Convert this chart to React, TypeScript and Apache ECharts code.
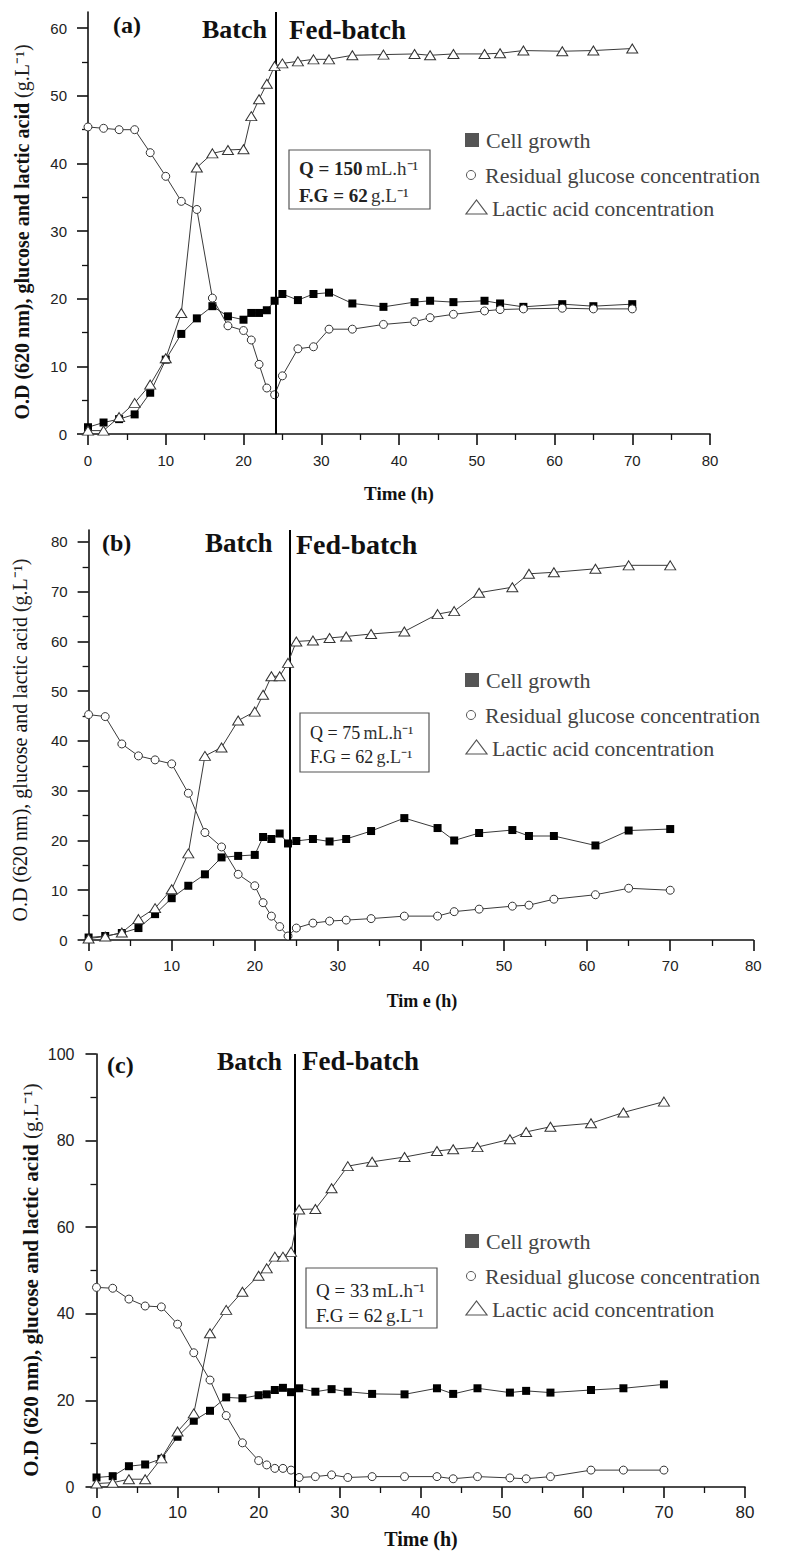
import React, { useEffect, useRef } from "react";
import * as echarts from "echarts";

// ---------- data ----------
const timeA = [0, 2, 4, 6, 8, 10, 12, 14, 16, 18, 20, 21, 22, 23, 24, 25, 27, 29, 31, 34, 38, 42, 44, 47, 51, 53, 56, 61, 65, 70];
const cellA = [1.0, 1.7, 2.2, 2.9, 6.1, 11.0, 14.8, 17.1, 18.9, 17.4, 16.9, 17.9, 17.9, 18.3, 19.7, 20.7, 19.8, 20.7, 20.9, 19.3, 18.8, 19.5, 19.7, 19.5, 19.7, 19.3, 18.8, 19.2, 18.9, 19.2];
const glucoseA = [45.4, 45.2, 45.0, 45.0, 41.6, 38.1, 34.4, 33.2, 20.1, 16.0, 15.3, 13.9, 10.3, 6.8, 5.8, 8.6, 12.6, 12.9, 15.5, 15.5, 16.2, 16.6, 17.2, 17.7, 18.2, 18.4, 18.5, 18.6, 18.5, 18.5];
const lacticA = [0.5, 0.5, 2.5, 4.6, 7.3, 11.2, 17.9, 39.4, 41.5, 42.0, 42.1, 47.0, 49.5, 51.8, 54.4, 54.8, 55.1, 55.4, 55.4, 56.0, 56.1, 56.2, 56.0, 56.2, 56.2, 56.3, 56.7, 56.6, 56.7, 57.0];

const timeB = [0, 2, 4, 6, 8, 10, 12, 14, 16, 18, 20, 21, 22, 23, 24, 25, 27, 29, 31, 34, 38, 42, 44, 47, 51, 53, 56, 61, 65, 70];
const cellB = [0.5, 0.8, 1.4, 2.4, 5.2, 8.4, 10.9, 13.2, 16.6, 16.9, 17.1, 20.7, 20.3, 21.4, 19.4, 19.9, 20.3, 19.8, 20.3, 21.9, 24.5, 22.5, 20.0, 21.5, 22.1, 20.9, 20.9, 19.0, 22.0, 22.3];
const glucoseB = [45.3, 44.9, 39.4, 37.0, 36.2, 35.4, 29.5, 21.6, 18.7, 13.2, 10.9, 7.5, 4.8, 2.7, 0.8, 2.4, 3.4, 3.8, 4.0, 4.3, 4.8, 4.8, 5.7, 6.2, 6.8, 7.0, 8.2, 9.1, 10.4, 10.0];
const lacticB = [0.3, 0.7, 1.5, 4.2, 6.4, 10.2, 17.4, 37.0, 38.7, 44.1, 45.9, 49.3, 53.0, 53.0, 55.7, 60.0, 60.2, 60.7, 61.0, 61.5, 62.0, 65.5, 66.1, 69.8, 70.9, 73.6, 73.9, 74.6, 75.3, 75.3];

const timeC = [0, 2, 4, 6, 8, 10, 12, 14, 16, 18, 20, 21, 22, 23, 24, 25, 27, 29, 31, 34, 38, 42, 44, 47, 51, 53, 56, 61, 65, 70];
const cellC = [2.2, 2.5, 4.8, 5.2, 6.5, 11.6, 15.3, 17.6, 20.7, 20.5, 21.2, 21.4, 22.4, 22.9, 21.9, 22.8, 22.0, 22.6, 22.0, 21.5, 21.4, 22.8, 21.5, 22.8, 21.8, 22.2, 21.8, 22.4, 22.8, 23.7];
const glucoseC = [46.1, 45.9, 43.4, 41.8, 41.6, 37.6, 31.0, 24.7, 16.5, 10.2, 6.1, 5.1, 4.3, 4.3, 3.9, 2.2, 2.4, 2.8, 2.2, 2.4, 2.4, 2.4, 1.9, 2.4, 2.1, 1.9, 2.4, 3.9, 3.9, 3.9];
const lacticC = [0.8, 1.0, 1.8, 1.8, 6.6, 12.8, 17.0, 35.5, 40.9, 45.1, 48.8, 50.5, 53.2, 53.2, 54.3, 64.1, 64.2, 69.0, 74.1, 75.1, 76.2, 77.6, 78.0, 78.5, 80.3, 82.0, 83.2, 84.0, 86.5, 89.0];

const switchTimes = [24.2, 24.2, 24.5];
const seriesNames = ["Cell growth", "Residual glucose concentration", "Lactic acid concentration"];
const panelLabels = ["(a)", "(b)", "(c)"];
const feedRates = ["150", "75", "33"];
const feedGlucose = "62";
const yLabelsA = [0, 10, 20, 30, 40, 50, 60];
const yMinorA = [5, 15, 25, 35, 45, 55];
const yLabelsB = [0, 10, 20, 30, 40, 50, 60, 70, 80];
const yMinorB = [5, 15, 25, 35, 45, 55, 65, 75];

// ---------- layout ----------
const SERIF = '"Liberation Serif", "Times New Roman", serif';
const SANS = '"Liberation Sans", Arial, sans-serif';
const grids = [
  { left: 88, top: 12, width: 622, height: 422 },
  { left: 88.6, top: 530, width: 664.7, height: 410 },
  { left: 96.5, top: 1054, width: 648.5, height: 433 },
];
const yMax = [62.4, 82.4, 100];
const axisLineStyle = { color: "#111", width: 1.6 };

function pairs(t: number[], v: number[]) {
  return t.map((x, i) => [x, v[i]]);
}

function panelSeries(gi: number, yIdx: number, t: number[], cell: number[], glu: number[], lac: number[]) {
  const common = {
    type: "line",
    xAxisIndex: gi,
    yAxisIndex: yIdx,
    clip: false,
    lineStyle: { color: "#3a3a3a", width: 1 },
    emphasis: { disabled: true },
  };
  return [
    {
      ...common,
      name: seriesNames[0],
      data: pairs(t, cell),
      symbol: "rect",
      symbolSize: 8,
      itemStyle: { color: "#000" },
      z: 3,
      markLine: {
        silent: true,
        symbol: ["none", "none"],
        label: { show: false },
        lineStyle: { color: "#000", width: 2, type: "solid" },
        emphasis: { disabled: true },
        data: [{ xAxis: switchTimes[gi] }],
      },
    },
    {
      ...common,
      name: seriesNames[1],
      data: pairs(t, glu),
      symbol: "circle",
      symbolSize: 8,
      itemStyle: { color: "#fff", borderColor: "#333", borderWidth: 1 },
      z: 4,
    },
    {
      ...common,
      name: seriesNames[2],
      data: pairs(t, lac),
      symbol: "triangle",
      symbolSize: [11, 9],
      itemStyle: { color: "#fff", borderColor: "#333", borderWidth: 1 },
      z: 5,
    },
  ];
}

function legendGraphics(y0: number) {
  const txt = (x: number, y: number, text: string) => ({
    type: "text",
    x,
    y,
    style: { text, fontFamily: SERIF, fontSize: 22, fill: "#444", verticalAlign: "middle", align: "left" },
  });
  return [
    { type: "rect", shape: { x: 465, y: y0 - 7, width: 14, height: 14 }, style: { fill: "#555" } },
    txt(486, y0, seriesNames[0]),
    { type: "circle", shape: { cx: 471, cy: y0 + 35, r: 4.5 }, style: { fill: "#fff", stroke: "#555", lineWidth: 1 } },
    txt(485, y0 + 35, seriesNames[1]),
    {
      type: "polygon",
      shape: { points: [[466, y0 + 74], [487, y0 + 74], [476.5, y0 + 60]] },
      style: { fill: "none", stroke: "#555", lineWidth: 1.2 },
    },
    txt(492, y0 + 68, seriesNames[2]),
  ];
}

function boxGraphics(x: number, y: number, w: number, h: number, rate: string, bold: boolean, fs: number, l1: number, l2: number) {
  const rich = {
    b: { fontFamily: SERIF, fontSize: fs, fontWeight: bold ? "bold" : "normal", fill: "#222" },
    n: { fontFamily: SERIF, fontSize: fs, fill: "#333" },
  };
  return [
    { type: "rect", shape: { x, y, width: w, height: h }, style: { fill: "none", stroke: "#555", lineWidth: 1.2 } },
    {
      type: "text",
      x: x + 10,
      y: l1,
      style: { text: `{b|Q = ${rate}} {n|mL.h⁻¹}`, rich, verticalAlign: "middle", align: "left" },
    },
    {
      type: "text",
      x: x + 10,
      y: l2,
      style: { text: `{b|F.G = ${feedGlucose}} {n|g.L⁻¹}`, rich, verticalAlign: "middle", align: "left" },
    },
  ];
}

function headText(x: number, y: number, text: string, fs: number) {
  return {
    type: "text",
    x,
    y,
    style: { text, fontFamily: SERIF, fontSize: fs, fontWeight: "bold", fill: "#111", verticalAlign: "middle", align: "left" },
  };
}

function yTitle(x: number, y: number, bold: boolean, fs: number) {
  return {
    type: "text",
    x,
    y,
    rotation: Math.PI / 2,
    style: {
      text: "{b|O.D (620 nm), glucose and lactic acid }{n|(g.L⁻¹)}",
      rich: {
        b: { fontFamily: SERIF, fontSize: fs, fontWeight: bold ? "bold" : "normal", fill: "#111" },
        n: { fontFamily: SERIF, fontSize: fs, fill: "#222" },
      },
      align: "center",
      verticalAlign: "middle",
    },
  };
}

function xTitle(x: number, y: number, text: string, fs: number) {
  return {
    type: "text",
    x,
    y,
    style: { text, fontFamily: SERIF, fontSize: fs, fontWeight: "bold", fill: "#111", align: "center", verticalAlign: "middle" },
  };
}

function buildOption() {
  const xMargins = [19, 18, 17];
  const xFonts = [15, 15, 17];
  const xAxis = grids.map((_, i) => ({
    gridIndex: i,
    type: "value",
    min: 0,
    max: 80,
    interval: 10,
    axisLine: { show: true, onZero: false, lineStyle: axisLineStyle },
    axisTick: { show: true, length: 11, lineStyle: axisLineStyle },
    minorTick: { show: true, splitNumber: 2, length: 6, lineStyle: { color: "#111", width: 1.3 } },
    splitLine: { show: false },
    minorSplitLine: { show: false },
    axisLabel: { margin: xMargins[i], fontSize: xFonts[i], color: "#222", fontFamily: SANS },
  }));

  const customY = (gi: number, labels: number[], minor: number[], max: number) => [
    {
      gridIndex: gi,
      type: "value",
      position: "left",
      offset: 0,
      min: 0,
      max,
      interval: 10,
      axisLine: { show: true, onZero: false, lineStyle: axisLineStyle },
      axisTick: { show: false },
      splitLine: { show: false },
      axisLabel: {
        customValues: labels,
        margin: 21,
        fontSize: 15,
        color: "#222",
        fontFamily: SANS,
        formatter: (v: number) => (v % 10 === 0 ? String(v) : ""),
      },
    },
    {
      gridIndex: gi,
      type: "value",
      position: "left",
      offset: 0,
      min: 0,
      max,
      axisLine: { show: false },
      axisLabel: { show: false },
      splitLine: { show: false },
      axisTick: { show: true, customValues: labels, length: 11, lineStyle: axisLineStyle },
    },
    {
      gridIndex: gi,
      type: "value",
      position: "left",
      offset: 0,
      min: 0,
      max,
      axisLine: { show: false },
      axisLabel: { show: false },
      splitLine: { show: false },
      axisTick: { show: true, customValues: minor, length: 6, lineStyle: { color: "#111", width: 1.3 } },
    },
  ];

  const yAxis = [
    ...customY(0, yLabelsA, yMinorA, yMax[0]),
    ...customY(1, yLabelsB, yMinorB, yMax[1]),
    {
      gridIndex: 2,
      type: "value",
      position: "left",
      min: 0,
      max: yMax[2],
      interval: 20,
      axisLine: { show: true, onZero: false, lineStyle: axisLineStyle },
      axisTick: { show: true, length: 11, lineStyle: axisLineStyle },
      minorTick: { show: true, splitNumber: 2, length: 6, lineStyle: { color: "#111", width: 1.3 } },
      splitLine: { show: false },
      minorSplitLine: { show: false },
      axisLabel: { margin: 22, fontSize: 16, color: "#222", fontFamily: SANS },
    },
  ];

  const series = [
    ...panelSeries(0, 0, timeA, cellA, glucoseA, lacticA),
    ...panelSeries(1, 3, timeB, cellB, glucoseB, lacticB),
    ...panelSeries(2, 6, timeC, cellC, glucoseC, lacticC),
  ];

  const graphic = [
    // panel (a)
    headText(113, 25, panelLabels[0], 24),
    headText(202, 29, "Batch", 26),
    headText(289, 30, "Fed-batch", 27),
    ...boxGraphics(289, 150, 141, 59, feedRates[0], true, 19, 168, 195),
    ...legendGraphics(140),
    yTitle(22, 232, true, 20),
    xTitle(399, 493, "Time (h)", 19),
    // panel (b)
    headText(102, 543, panelLabels[1], 24),
    headText(205, 543, "Batch", 27),
    headText(296, 544, "Fed-batch", 28),
    ...boxGraphics(300, 713, 129, 59, feedRates[1], false, 18, 733, 757),
    ...legendGraphics(680),
    yTitle(20, 740, false, 20),
    xTitle(422, 1001, "Tim e (h)", 18),
    // panel (c)
    headText(107, 1065, panelLabels[2], 24),
    headText(217, 1061, "Batch", 26),
    headText(302, 1061, "Fed-batch", 27),
    ...boxGraphics(306, 1268, 131, 60, feedRates[2], false, 19, 1290, 1315),
    ...legendGraphics(1241),
    yTitle(31, 1280, true, 21),
    xTitle(421, 1539, "Time (h)", 20),
  ];

  return {
    animation: false,
    backgroundColor: "#ffffff",
    grid: grids.map((g) => ({ ...g, containLabel: false, outerBoundsMode: "none" })),
    xAxis,
    yAxis,
    series,
    graphic,
  };
}

export default function App() {
  const ref = useRef<HTMLDivElement>(null);
  useEffect(() => {
    if (!ref.current) return;
    const chart = echarts.init(ref.current, undefined, { renderer: "svg" });
    chart.setOption(buildOption() as any);
    return () => chart.dispose();
  }, []);
  return (
    <div
      ref={ref}
      style={{ position: "absolute", left: 0, top: 0, width: 787, height: 1563, background: "#fff" }}
    />
  );
}
